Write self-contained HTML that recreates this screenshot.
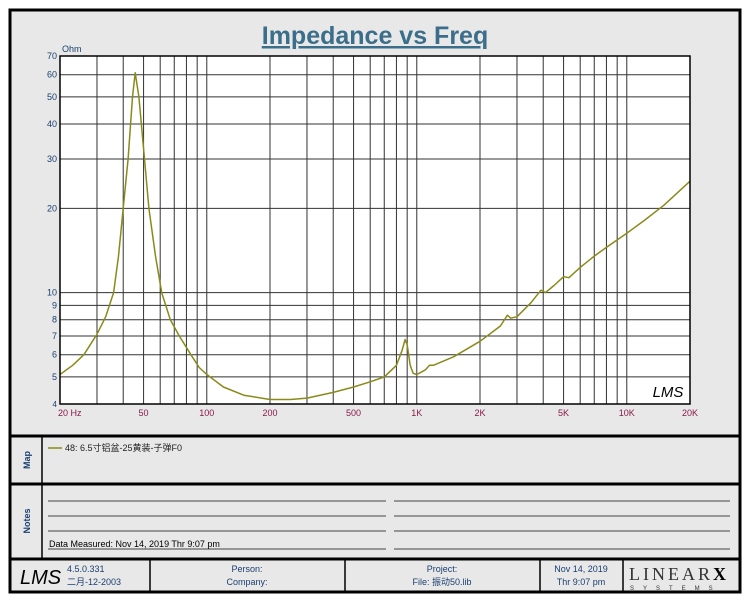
<!DOCTYPE html>
<html><head><meta charset="utf-8"><style>
body{margin:0;background:#fff;width:750px;height:600px;overflow:hidden;font-family:"Liberation Sans","Noto Sans CJK SC",sans-serif}
</style></head><body>
<svg width="750" height="600" xmlns="http://www.w3.org/2000/svg">
<rect x="10" y="10" width="730" height="582" fill="#e8e8e8" stroke="#000" stroke-width="3"/>
<line x1="10" y1="436" x2="740" y2="436" stroke="#000" stroke-width="3"/>
<line x1="10" y1="484" x2="740" y2="484" stroke="#000" stroke-width="3"/>
<line x1="10" y1="559" x2="740" y2="559" stroke="#000" stroke-width="3"/>
<line x1="42" y1="436" x2="42" y2="559" stroke="#000" stroke-width="1.5"/>
<text x="375" y="44" text-anchor="middle" font-size="25" font-weight="bold" fill="#3a6e8a" text-decoration="underline">Impedance vs Freq</text>
<text x="62" y="52" font-size="9" fill="#1a3f70">Ohm</text>
<rect x="60" y="56" width="630" height="348" fill="#fff"/>
<g id="grid"></g>
<g id="yt"></g>
<g id="xt"></g>
<path id="curve" fill="none" stroke="#8a8a1a" stroke-width="1.5" stroke-linejoin="round"/>
<rect x="60" y="56" width="630" height="348" fill="none" stroke="#000" stroke-width="1.5"/>
<text x="668" y="397" text-anchor="middle" font-size="15" font-style="italic" fill="#000">LMS</text>
<text transform="translate(30,460) rotate(-90)" text-anchor="middle" font-size="9" font-weight="bold" fill="#1a3f70">Map</text>
<line x1="48" y1="448" x2="62" y2="448" stroke="#8a8a1a" stroke-width="1.5"/>
<text x="65" y="451" font-size="9" fill="#222">48: 6.5寸铝盆-25黄装-子弹F0</text>
<text transform="translate(30,521) rotate(-90)" text-anchor="middle" font-size="9" font-weight="bold" fill="#1a3f70">Notes</text>
<g stroke="#444" stroke-width="1">
<line x1="48" y1="501" x2="386" y2="501"/><line x1="394" y1="501" x2="730" y2="501"/>
<line x1="48" y1="516" x2="386" y2="516"/><line x1="394" y1="516" x2="730" y2="516"/>
<line x1="48" y1="531" x2="386" y2="531"/><line x1="394" y1="531" x2="730" y2="531"/>
<line x1="48" y1="549" x2="386" y2="549"/><line x1="394" y1="549" x2="730" y2="549"/>
</g>
<text x="49" y="547" font-size="9" fill="#000">Data Measured: Nov 14, 2019  Thr  9:07 pm</text>
<g stroke="#000" stroke-width="1.5"><line x1="150" y1="559" x2="150" y2="592"/><line x1="345" y1="559" x2="345" y2="592"/><line x1="540" y1="559" x2="540" y2="592"/><line x1="623" y1="559" x2="623" y2="592"/></g>
<text x="20" y="584" font-size="20" font-style="italic" fill="#000">LMS</text>
<text x="67" y="572" font-size="9" fill="#1a3f70">4.5.0.331</text>
<text x="67" y="585" font-size="9" fill="#1a3f70">二月-12-2003</text>
<text x="247" y="572" font-size="9" text-anchor="middle" fill="#1a3f70">Person:</text>
<text x="247" y="585" font-size="9" text-anchor="middle" fill="#1a3f70">Company:</text>
<text x="442" y="572" font-size="9" text-anchor="middle" fill="#1a3f70">Project:</text>
<text x="442" y="585" font-size="9" text-anchor="middle" fill="#1a3f70">File: 振动50.lib</text>
<text x="581" y="572" font-size="9" text-anchor="middle" fill="#1a3f70">Nov 14, 2019</text>
<text x="581" y="585" font-size="9" text-anchor="middle" fill="#1a3f70">Thr  9:07 pm</text>
<text x="629" y="580" font-size="18" font-family="Liberation Serif,serif" letter-spacing="3" fill="#333">LINEAR<tspan font-weight="bold" fill="#000">X</tspan></text>
<text x="630" y="590" font-size="6" letter-spacing="9" fill="#333">SYSTEMS</text>
</svg>
<script>
const freqs=[20,23,26,30,33,36,38,40,42.2,44.3,45.6,47.5,50.5,53,57,61,67,74,84,92,100,120,150,200,250,300,400,500,600,700,800,850,880,900,930,960,1000,1100,1150,1200,1500,2000,2500,2700,2800,3000,3500,3900,4100,4500,5000,5300,6000,7000,8000,10000,12000,15000,20000];
const ohms=[5.1,5.5,6.0,7.1,8.2,10,13.5,20,30,50,61,50,30,20,13.5,10,8,7,6,5.4,5.1,4.6,4.3,4.15,4.15,4.2,4.4,4.6,4.8,5.0,5.5,6.2,6.8,6.5,5.5,5.15,5.1,5.3,5.5,5.5,5.9,6.7,7.6,8.3,8.1,8.2,9.2,10.2,10.0,10.6,11.4,11.3,12.3,13.5,14.5,16.3,18,20.5,25];
const yTicks=[4,5,6,7,8,9,10,20,30,40,50,60,70];
const xGrid=[30,40,50,60,70,80,90,100,200,300,400,500,600,700,800,900,1000,2000,3000,4000,5000,6000,7000,8000,9000,10000];
const xLabels=[[20,"20  Hz"],[50,"50"],[100,"100"],[200,"200"],[500,"500"],[1000,"1K"],[2000,"2K"],[5000,"5K"],[10000,"10K"],[20000,"20K"]];
const X0=60,X1=690,Y0=404,Y1=56;
const xs=f=>X0+(X1-X0)*Math.log10(f/20)/3;
const ys=v=>Y0-(Y0-Y1)*Math.log(v/4)/Math.log(70/4);
const NS="http://www.w3.org/2000/svg";
const grid=document.getElementById('grid'),yt=document.getElementById('yt'),xt=document.getElementById('xt');
function mk(t,a,p){const e=document.createElementNS(NS,t);for(const k in a)e.setAttribute(k,a[k]);p.appendChild(e);return e;}
xGrid.forEach(f=>{const l=mk('line',{x1:xs(f),x2:xs(f),y1:Y1,y2:Y0,stroke:'#333','stroke-width':1},grid);

});
yTicks.forEach(v=>{const l=mk('line',{x1:X0,x2:X1,y1:ys(v),y2:ys(v),stroke:'#333','stroke-width':1},grid);


const t=mk('text',{x:X0-3,y:ys(v)+3,'text-anchor':'end','font-size':v==4?8:9,fill:'#1a3f70'},yt);t.textContent=v;

});
xLabels.forEach(([f,s])=>{const t=mk('text',{x:xs(f)+(f==20?-2:0),y:416,'text-anchor':f==20?'start':'middle','font-size':9,fill:'#8a1a4a'},xt);t.textContent=s;

});
document.getElementById('curve').setAttribute('d',freqs.map((f,i)=>(i?'L':'M')+xs(f).toFixed(1)+','+ys(ohms[i]).toFixed(1)).join(''));
</script>
</body></html>
